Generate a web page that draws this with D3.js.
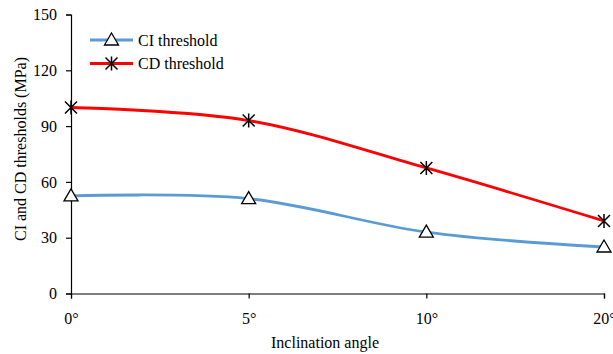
<!DOCTYPE html>
<html><head><meta charset="utf-8">
<script src="https://cdn.jsdelivr.net/npm/d3@7"></script>
<style>body{margin:0;background:#fff;}svg text{font-family:"Liberation Serif","Times New Roman",Tinos,"DejaVu Serif",serif !important;}</style>
</head><body>
<svg id="c" width="613" height="354"></svg>
<script>
const categories = ["0°", "5°", "10°", "20°"];
const ciValues = [52.5, 51, 33, 25];
const cdValues = [100, 93, 67.5, 39];
const yTicks = [0, 30, 60, 90, 120, 150];

const FONT = '"Liberation Serif","Times New Roman",Tinos,"DejaVu Serif",serif';
const FS = 16;
const svg = d3.select("#c");
const x = d3.scalePoint().domain(categories).range([71, 604]);
const y = d3.scaleLinear().domain([0, 150]).range([293.5, 14.5]);

// axes
const gy = svg.append("g").attr("transform", "translate(71,0)")
  .call(d3.axisLeft(y).tickValues(yTicks).tickSize(5).tickPadding(9));
const gx = svg.append("g").attr("transform", "translate(0,293.5)")
  .call(d3.axisBottom(x).tickSize(5).tickPadding(14));
[gy, gx].forEach(g => {
  g.attr("font-family", null).style("font-family", FONT);
  g.selectAll("path").attr("stroke", "#000").attr("stroke-width", 1.2);
  g.selectAll("line").attr("stroke", "#000").attr("stroke-width", 1.2);
  g.selectAll("text").style("font-family", FONT).attr("font-size", FS).attr("fill", "#000");
});

const line = d3.line().x((d, i) => x(categories[i])).y(d => y(d)).curve(d3.curveCardinal.tension(0));

const series = [
  {name: "CI threshold", values: ciValues, color: "#5B9BD5", marker: "tri"},
  {name: "CD threshold", values: cdValues, color: "#FF0000", marker: "star"}
];

function drawMarker(g, cx, cy, type) {
  if (type === "tri") {
    g.append("path").attr("d", `M${cx},${cy-7} L${cx+7},${cy+5} L${cx-7},${cy+5} Z`)
      .attr("fill", "#fff").attr("stroke", "#000").attr("stroke-width", 1.3);
  } else {
    const s = 6;
    g.append("path").attr("d", `M${cx-s},${cy-s} L${cx+s},${cy+s} M${cx-s},${cy+s} L${cx+s},${cy-s} M${cx},${cy-s-1} L${cx},${cy+s+1}`)
      .attr("fill", "none").attr("stroke", "#000").attr("stroke-width", 1.5);
  }
}

series.forEach(s => {
  svg.append("path").datum(s.values).attr("d", line)
    .attr("fill", "none").attr("stroke", s.color).attr("stroke-width", 2.8);
});
series.forEach(s => {
  const g = svg.append("g");
  s.values.forEach((v, i) => drawMarker(g, x(categories[i]), y(v), s.marker));
});

// legend
series.forEach((s, i) => {
  const ly = 40 + i * 23.5;
  svg.append("line").attr("x1", 90).attr("x2", 133).attr("y1", ly).attr("y2", ly)
    .attr("stroke", s.color).attr("stroke-width", 2.8);
  drawMarker(svg.append("g"), 111.5, ly, s.marker);
  svg.append("text").attr("x", 138).attr("y", ly + 5.5).style("font-family", FONT).attr("font-size", FS).attr("fill", "#000").text(s.name);
});

// axis titles
svg.append("text").attr("x", 325).attr("y", 348).attr("text-anchor", "middle").style("font-family", FONT)
  .attr("font-size", FS).attr("fill", "#000").text("Inclination angle");
svg.append("text").attr("transform", "translate(26,149) rotate(-90)").attr("text-anchor", "middle").style("font-family", FONT)
  .attr("font-size", FS).attr("fill", "#000").text("CI and CD thresholds (MPa)");
</script>
</body></html>
